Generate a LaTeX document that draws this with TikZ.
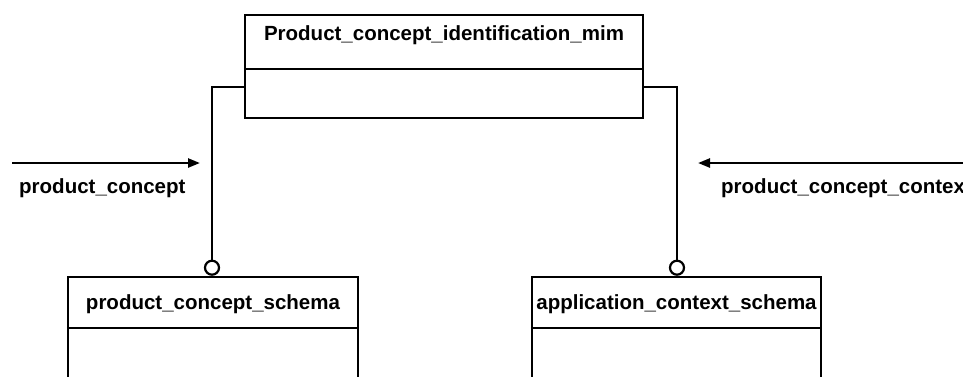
\documentclass[tikz,border=0pt]{standalone}
\usepackage{fontspec}
\setmainfont{Liberation Sans}
\usetikzlibrary{arrows.meta,calc}
\begin{document}
\begin{tikzpicture}[x=1pt,y=1pt,
  line width=2.4pt,
  umlbox/.style={draw=black, rectangle, inner sep=0pt, fill=white},
  lbl/.style={font=\fontsize{20.5}{22}\selectfont\bfseries, inner sep=0pt},
  ring/.style={draw=black, circle, fill=white, minimum size=14pt, inner sep=0pt, line width=2.2pt},
  flow/.style={-{Triangle[length=12pt,width=9pt]}, line width=2.4pt}
]
\useasboundingbox (0,0) rectangle (963,-376);
% top class
\node[umlbox, minimum width=398pt, minimum height=103pt] (mim) at (444,-66.5) {};
\draw ([yshift=-55pt]mim.north west) -- ([yshift=-55pt]mim.north east);
\node[lbl] (mimt) at (444,-35) {Product\_concept\_identification\_mim};
% lower-left class
\node[umlbox, minimum width=290pt, minimum height=120pt] (pcs) at (213,-337) {};
\draw ([yshift=-52pt]pcs.north west) -- ([yshift=-52pt]pcs.north east);
\node[lbl] (pcst) at (213,-304) {product\_concept\_schema};
% lower-right class
\node[umlbox, minimum width=289pt, minimum height=120pt] (acs) at (676.5,-337) {};
\draw ([yshift=-52pt]acs.north west) -- ([yshift=-52pt]acs.north east);
\node[lbl] (acst) at (676.5,-304) {application\_context\_schema};
% rings
\node[ring, anchor=south] (c1) at (pcs.north -| 212,0) {};
\node[ring, anchor=south] (c2) at (acs.north -| 677,0) {};
% connectors
\draw ([yshift=-20.5pt]mim.west) -| (c1.north);
\draw ([yshift=-20.5pt]mim.east) -| (c2.north);
% flows
\coordinate (la) at (12,-163);
\coordinate (lb) at (200,-163);
\coordinate (ra) at (970,-163);
\coordinate (rb) at (698,-163);
\draw[flow] (la) -- (lb);
\draw[flow] (ra) -- (rb);
\node[lbl, anchor=west] (pc) at (18,-188) {product\_concept};
\node[lbl, anchor=west] (pcc) at (720,-188) {product\_concept\_context};
\end{tikzpicture}
\end{document}
